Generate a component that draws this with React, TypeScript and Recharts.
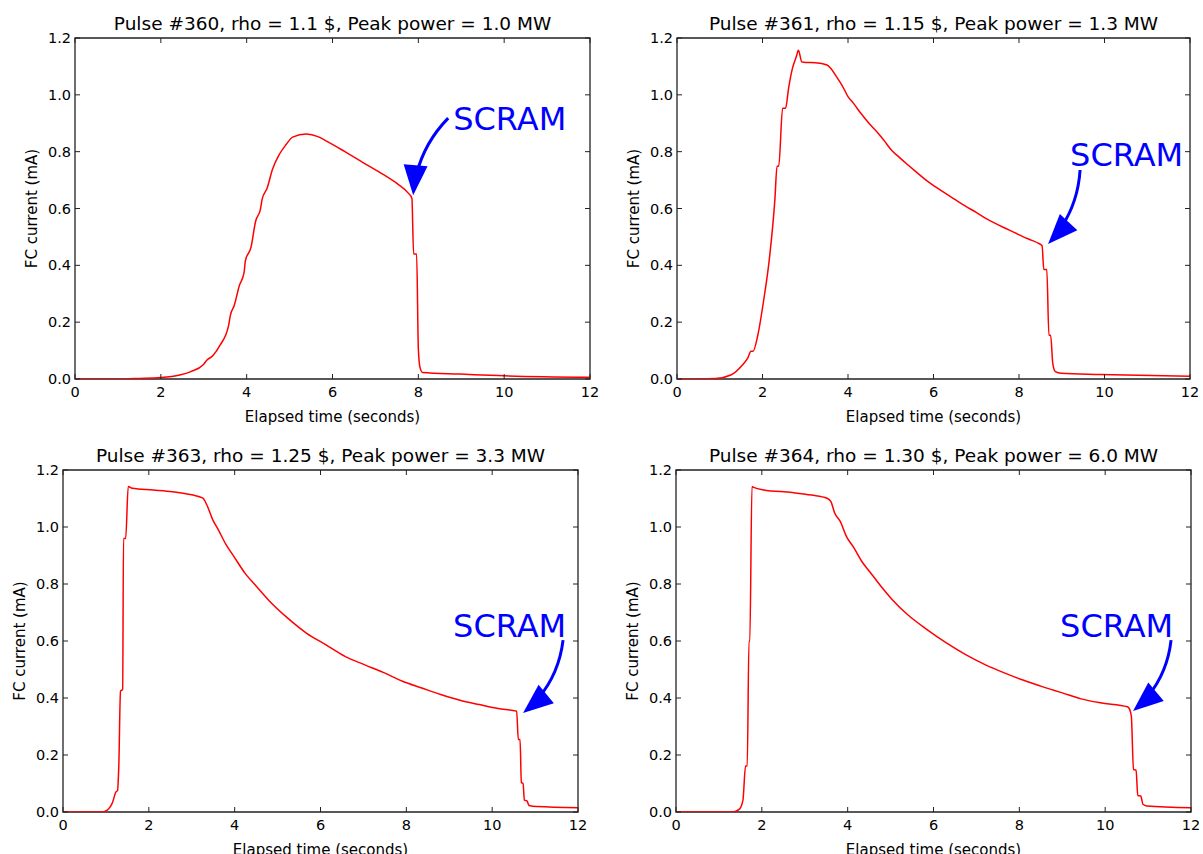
import {
  LineChart,
  Line,
  XAxis,
  YAxis,
  ReferenceLine,
  ReferenceArea,
  ReferenceDot,
} from "recharts"

const FONT = '"DejaVu Sans", sans-serif'

// axis ticks shared by all four panels
const xTicks = [0, 2, 4, 6, 8, 10, 12]
const yTicks = [0, 0.2, 0.4, 0.6, 0.8, 1.0, 1.2]

// Pulse #360
const time360 = [0, 1.0, 1.5, 2.0, 2.44, 2.7, 2.98, 3.07, 3.21, 3.38, 3.58, 3.62, 3.71, 3.83, 3.94, 3.97, 4.1, 4.21, 4.32, 4.36, 4.48, 4.6, 4.76, 4.92, 5.07, 5.39, 5.66, 5.84, 6.28, 6.73, 7.18, 7.53, 7.76, 7.85, 7.89, 7.96, 8.0, 8.04, 8.1, 8.97, 9.86, 12]
const current360 = [0, 0, 0.002, 0.005, 0.014, 0.026, 0.049, 0.066, 0.082, 0.119, 0.189, 0.224, 0.259, 0.329, 0.375, 0.416, 0.463, 0.556, 0.597, 0.632, 0.673, 0.737, 0.79, 0.825, 0.851, 0.862, 0.853, 0.839, 0.801, 0.76, 0.72, 0.685, 0.655, 0.636, 0.44, 0.44, 0.107, 0.04, 0.023, 0.0175, 0.012, 0.006]

// Pulse #361
const time361 = [0, 0.9, 1.26, 1.53, 1.66, 1.73, 1.78, 1.89, 2.02, 2.16, 2.29, 2.34, 2.38, 2.47, 2.54, 2.61, 2.7, 2.79, 2.84, 2.92, 3.01, 3.24, 3.51, 3.6, 3.73, 3.87, 4.0, 4.13, 4.3, 4.49, 4.7, 4.85, 5.03, 5.2, 5.39, 5.6, 5.84, 6.05, 6.29, 6.5, 6.74, 7.0, 7.19, 7.4, 7.64, 7.9, 8.09, 8.3, 8.45, 8.54, 8.58, 8.65, 8.7, 8.74, 8.79, 8.85, 8.99, 9.89, 12]
const current361 = [0, 0.002, 0.014, 0.049, 0.075, 0.098, 0.098, 0.154, 0.27, 0.422, 0.632, 0.749, 0.749, 0.953, 0.953, 1.023, 1.093, 1.134, 1.157, 1.116, 1.114, 1.113, 1.105, 1.093, 1.064, 1.031, 0.994, 0.97, 0.935, 0.9, 0.866, 0.838, 0.803, 0.78, 0.755, 0.728, 0.698, 0.676, 0.652, 0.632, 0.609, 0.586, 0.568, 0.551, 0.533, 0.515, 0.501, 0.488, 0.478, 0.469, 0.385, 0.385, 0.154, 0.154, 0.055, 0.026, 0.02, 0.016, 0.01]

// Pulse #363
const time363 = [0, 0.89, 1.03, 1.16, 1.23, 1.27, 1.3, 1.34, 1.39, 1.41, 1.46, 1.52, 1.61, 2.1, 2.55, 3.0, 3.26, 3.35, 3.49, 3.62, 3.8, 3.98, 4.24, 4.51, 4.78, 5.23, 5.67, 6.12, 6.57, 7.02, 7.46, 7.91, 8.36, 8.8, 9.25, 9.7, 10.14, 10.57, 10.61, 10.65, 10.68, 10.72, 10.75, 10.81, 10.86, 11.04, 12]
const current363 = [0, 0, 0.007, 0.036, 0.07, 0.075, 0.161, 0.424, 0.43, 0.96, 0.96, 1.142, 1.136, 1.13, 1.124, 1.113, 1.101, 1.078, 1.025, 0.99, 0.938, 0.897, 0.838, 0.791, 0.745, 0.681, 0.628, 0.587, 0.546, 0.517, 0.49, 0.459, 0.435, 0.412, 0.392, 0.377, 0.363, 0.354, 0.254, 0.254, 0.103, 0.1, 0.042, 0.039, 0.023, 0.019, 0.015]

// Pulse #364
const time364 = [0, 1.32, 1.47, 1.56, 1.62, 1.66, 1.7, 1.72, 1.77, 1.81, 2.04, 2.71, 3.16, 3.52, 3.61, 3.7, 3.83, 3.97, 4.15, 4.33, 4.51, 4.78, 5.04, 5.4, 5.85, 6.3, 6.75, 7.2, 7.65, 8.1, 8.55, 9.0, 9.44, 9.89, 10.52, 10.57, 10.61, 10.66, 10.72, 10.76, 10.83, 10.88, 10.97, 12]
const current364 = [0, 0, 0.009, 0.042, 0.161, 0.161, 0.599, 0.599, 1.142, 1.139, 1.13, 1.121, 1.112, 1.101, 1.089, 1.048, 1.019, 0.967, 0.926, 0.879, 0.844, 0.791, 0.745, 0.692, 0.64, 0.593, 0.552, 0.517, 0.488, 0.462, 0.439, 0.418, 0.397, 0.383, 0.369, 0.36, 0.336, 0.149, 0.147, 0.058, 0.056, 0.027, 0.021, 0.015]

const titles = [
  "Pulse #360, rho = 1.1 $, Peak power = 1.0 MW",
  "Pulse #361, rho = 1.15 $, Peak power = 1.3 MW",
  "Pulse #363, rho = 1.25 $, Peak power = 3.3 MW",
  "Pulse #364, rho = 1.30 $, Peak power = 6.0 MW",
]

// where the SCRAM arrow points (data coords)
const scramTime = [7.88, 8.68, 10.72, 10.65]
const scramCurrent = [0.647, 0.475, 0.347, 0.354]

const toRows = (t: number[], c: number[]) => t.map((x, k) => ({ t: x, v: c[k] }))

// plot boxes on the page + arrow geometry (pixels)
const panels = [
  { rows: toRows(time360, current360), left: 75, top: 38, w: 515, h: 341, tail: [35, -77], rad: 0.18, label: [40, -65] },
  { rows: toRows(time361, current361), left: 677, top: 38, w: 513, h: 341, tail: [32, -74], rad: -0.18, label: [22, -78] },
  { rows: toRows(time363, current363), left: 63, top: 470, w: 515, h: 342, tail: [40, -73], rad: -0.2, label: [-70, -76] },
  { rows: toRows(time364, current364), left: 676, top: 470, w: 515, h: 342, tail: [38, -71], rad: -0.2, label: [-73, -74] },
]

const ML = 75
const MR = 13
const MT = 38
const MB = 50
const TICK = 5
const AXIS_COLOR = "#222"

const XTickMark = (p: any) => {
  const top = Math.min(p.y1, p.y2)
  const bot = Math.max(p.y1, p.y2)
  return (
    <g>
      <line x1={p.x1} x2={p.x1} y1={top} y2={top + TICK} stroke={AXIS_COLOR} strokeWidth={1} />
      <line x1={p.x1} x2={p.x1} y1={bot - TICK} y2={bot} stroke={AXIS_COLOR} strokeWidth={1} />
    </g>
  )
}

const YTickMark = (p: any) => {
  const l = Math.min(p.x1, p.x2)
  const r = Math.max(p.x1, p.x2)
  return (
    <g>
      <line x1={l} x2={l + TICK} y1={p.y1} y2={p.y1} stroke={AXIS_COLOR} strokeWidth={1} />
      <line x1={r - TICK} x2={r} y1={p.y1} y2={p.y1} stroke={AXIS_COLOR} strokeWidth={1} />
    </g>
  )
}

const ScramArrow = ({ cx, cy, tail, rad, label }: any) => {
  const x0 = cx + tail[0]
  const y0 = cy + tail[1]
  const dx = cx - x0
  const dy = cy - y0
  const cX = (x0 + cx) / 2 - rad * dy
  const cY = (y0 + cy) / 2 + rad * dx
  let ux = cx - cX
  let uy = cy - cY
  const n = Math.hypot(ux, uy)
  ux /= n
  uy /= n
  const L = 30
  const W = 12
  const bx = cx - ux * L
  const by = cy - uy * L
  const head = `M${cx},${cy} L${bx - uy * W},${by + ux * W} L${bx + uy * W},${by - ux * W} Z`
  // cut the shaft before the head tip
  const s = Math.max(0.1, 1 - (L * 0.7) / Math.hypot(dx, dy))
  const q1x = x0 + (cX - x0) * s
  const q1y = y0 + (cY - y0) * s
  const px = (1 - s) * (1 - s) * x0 + 2 * (1 - s) * s * cX + s * s * cx
  const py = (1 - s) * (1 - s) * y0 + 2 * (1 - s) * s * cY + s * s * cy
  return (
    <g>
      <path d={`M${x0},${y0} Q${q1x},${q1y} ${px},${py}`} fill="none" stroke="#0000ff" strokeWidth={3} />
      <path d={head} fill="#0000ff" />
      <text x={cx + label[0]} y={cy + label[1]} fill="#0000ff" fontSize={32} fontFamily={FONT}>
        SCRAM
      </text>
    </g>
  )
}

const Panel = ({ idx }: { idx: number }) => {
  const p = panels[idx]
  return (
    <div style={{ position: "absolute", left: p.left - ML, top: p.top - MT }}>
      <LineChart
        width={ML + p.w + MR}
        height={MT + p.h + MB}
        data={p.rows}
        margin={{ top: MT, right: MR, bottom: 0, left: 0 }}
      >
        <XAxis
          dataKey="t"
          type="number"
          domain={[0, 12]}
          ticks={xTicks}
          allowDataOverflow
          tickLine={false}
          axisLine={false}
          tickSize={0}
          tickMargin={8}
          height={MB}
          tick={{ fontSize: 14.5, fill: "#000", fontFamily: FONT }}
          label={{
            value: "Elapsed time (seconds)",
            position: "insideBottom",
            offset: 7,
            fontSize: 15,
            fill: "#000",
            fontFamily: FONT,
          }}
        />
        <YAxis
          type="number"
          domain={[0, 1.2]}
          ticks={yTicks}
          allowDataOverflow
          tickLine={false}
          axisLine={false}
          tickSize={0}
          tickMargin={4}
          width={ML}
          tickFormatter={(v: number) => v.toFixed(1)}
          tick={{ fontSize: 14.5, fill: "#000", fontFamily: FONT }}
          label={{
            value: "FC current (mA)",
            angle: -90,
            position: "insideLeft",
            offset: 31.5,
            fontSize: 15,
            fill: "#000",
            fontFamily: FONT,
            style: { textAnchor: "middle" },
          }}
        />
        <Line
          dataKey="v"
          type="monotone"
          stroke="#ff0000"
          strokeWidth={1.5}
          dot={false}
          isAnimationActive={false}
        />
        {xTicks.map(t => (
          <ReferenceLine key={`xt-${t}`} x={t} shape={XTickMark} />
        ))}
        {yTicks.map(v => (
          <ReferenceLine key={`yt-${v}`} y={v} shape={YTickMark} />
        ))}
        <ReferenceArea x1={0} x2={12} y1={0} y2={1.2} fill="none" fillOpacity={0} stroke={AXIS_COLOR} strokeWidth={1.3} />
        <ReferenceDot
          x={scramTime[idx]}
          y={scramCurrent[idx]}
          r={0}
          shape={(d: any) => <ScramArrow cx={d.cx} cy={d.cy} tail={p.tail} rad={p.rad} label={p.label} />}
        />
        <text x={ML + p.w / 2} y={MT - 8} textAnchor="middle" fontSize={18.5} fontFamily={FONT} fill="#000">
          {titles[idx]}
        </text>
      </LineChart>
    </div>
  )
}

const App = () => {
  return (
    <div
      style={{
        position: "absolute",
        left: 0,
        top: 0,
        width: 1203,
        height: 854,
        overflow: "hidden",
        background: "#fff",
      }}
    >
      {panels.map((_, i) => (
        <Panel key={i} idx={i} />
      ))}
    </div>
  )
}

export default App
